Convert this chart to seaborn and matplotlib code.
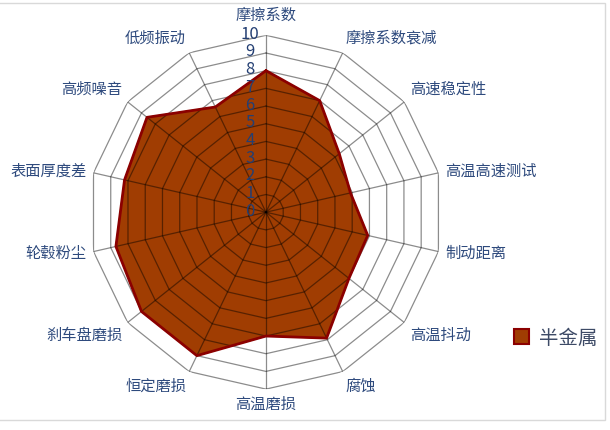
import numpy as np
import seaborn as sns
import matplotlib.pyplot as plt
from matplotlib.patches import Patch, Rectangle

# Data for the radar chart (clockwise from the top)
categories = ["摩擦系数", "摩擦系数衰减", "高速稳定性", "高温高速测试", "制动距离", "高温抖动", "腐蚀",
              "高温磨损", "恒定磨损", "刹车盘磨损", "轮毂粉尘", "表面厚度差", "高频噪音", "低频振动"]
values = [8.0, 7.0, 5.3, 4.9, 5.9, 6.0, 7.9, 7.0, 9.0, 9.0, 8.7, 8.2, 8.6, 6.6]
levels = list(range(0, 11))
series_name = "半金属"

# Set Seaborn style, then the font list
sns.set_theme(style="white")
plt.rcParams["font.family"] = ["Noto Sans CJK SC", "DejaVu Sans"]

fill_color = "#A03D02"
edge_color = "#8B0000"
text_color = "#2E4A7D"

n = len(categories)
angles = np.linspace(0, 2 * np.pi, n, endpoint=False)
angles_closed = np.append(angles, angles[0] + 2 * np.pi)
values_closed = values + values[:1]

fig = plt.figure(figsize=(6.1, 4.3), dpi=100)
ax = fig.add_axes([0.146, 0.095, 0.580, 0.823], projection="polar")
ax.set_theta_zero_location("N")
ax.set_theta_direction(-1)
ax.set_ylim(0, 10)
ax.grid(False)
ax.spines["polar"].set_visible(False)
ax.set_xticks([])
ax.set_yticks([])
ax.set_facecolor("white")

# Series fill and outline
ax.fill(angles_closed, values_closed, color=fill_color, zorder=1)
sns.lineplot(x=angles_closed, y=values_closed, sort=False, color=edge_color, linewidth=2,
             ax=ax, zorder=3, legend=False)

# Polygon grid and spokes
for lvl in levels[1:]:
    ax.plot(angles_closed, [lvl] * (n + 1), color="black", alpha=0.45, linewidth=0.9, zorder=2)
for a in angles:
    ax.plot([a, a], [0, 10], color="black", alpha=0.45, linewidth=0.9, zorder=2)

# Value labels along the top spoke
for lvl in levels:
    ax.annotate(str(lvl), xy=(0, lvl), xytext=(-16, 1), textcoords="offset pixels",
                ha="center", va="center", fontsize=12, color="#243F73", zorder=5)

# Category labels
for a, name in zip(angles, categories):
    s, c = np.sin(a), np.cos(a)
    ha = "left" if s > 0.01 else ("right" if s < -0.01 else "center")
    va = "bottom" if c > 0.3 else ("top" if c < -0.3 else "center")
    r = 10.65 if abs(s) < 0.01 and c > 0 else 10.4
    ax.text(a, r, name, ha=ha, va=va, fontsize=11, color=text_color)

# Legend
handle = Patch(facecolor=fill_color, edgecolor=edge_color, linewidth=1.5, label=series_name)
fig.legend(handles=[handle], loc="center left", bbox_to_anchor=(0.826, 0.214), frameon=False,
           fontsize=14, handlelength=0.8, handleheight=0.8, handletextpad=0.5, borderpad=0,
           labelcolor="#3D4A66")

# Light outer frame
fig.patches.append(Rectangle((-0.002, 0.023), 0.993, 0.970, transform=fig.transFigure,
                             fill=False, edgecolor="#D9D9D9", linewidth=1))

plt.savefig("out.png", dpi=100)
